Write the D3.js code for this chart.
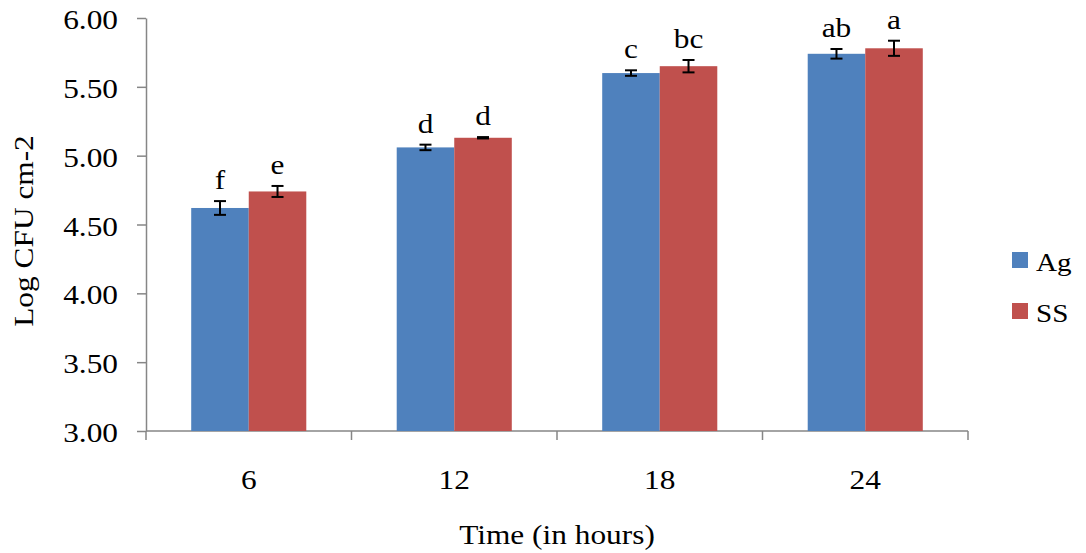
<!DOCTYPE html>
<html>
<head>
<meta charset="utf-8">
<script src="https://cdnjs.cloudflare.com/ajax/libs/d3/7.8.5/d3.min.js"></script>
<style>
  body { margin: 0; background: #fff; }
  svg text { font-family: "Liberation Serif", "Times New Roman", serif; fill: #000; }
  .axis path, .axis line { stroke: #868686; stroke-width: 1.5; }
</style>
</head>
<body>
<div id="container"></div>
<script>
// ---------------------
// DATA
// ---------------------
const categories = ['6', '12', '18', '24'];
const series = ['Ag', 'SS'];
const agValues = [4.62, 5.06, 5.60, 5.74];
const ssValues = [4.74, 5.13, 5.65, 5.78];
const agErrors = [0.05, 0.02, 0.02, 0.035];
const ssErrors = [0.04, 0.005, 0.045, 0.055];
const agLetters = ['f', 'd', 'c', 'ab'];
const ssLetters = ['e', 'd', 'bc', 'a'];
const yTicks = [3.0, 3.5, 4.0, 4.5, 5.0, 5.5, 6.0];
const colors = { Ag: '#4F81BD', SS: '#C0504D' };

// ---------------------
// SVG + DIMENSIONS
// ---------------------
const width = 1086, height = 553;
const margin = { top: 18, left: 146, right: 118, bottom: 122 };
const plotW = width - margin.left - margin.right;
const plotH = height - margin.top - margin.bottom;
const STRETCH = 1.12;   // the source font is a bit wider than Liberation Serif

const svg = d3.select('#container')
              .append('svg')
              .attr('width', width)
              .attr('height', height);

const g = svg.append('g')
             .attr('transform', `translate(${margin.left}, ${margin.top})`);

// move x/y into a transform so the text can be widened around its anchor
function stretchText (selection, rotate) {
  selection.each(function () {
    const t = d3.select(this);
    const tx = +t.attr('x') || 0;
    const ty = +t.attr('y') || 0;
    t.attr('x', 0).attr('y', 0)
     .attr('transform', `translate(${tx}, ${ty})${rotate ? ` rotate(${rotate})` : ''} scale(${STRETCH}, 1)`);
  });
}

// ---------------------
// SCALES
// ---------------------
const x = d3.scaleBand()
            .domain(categories)
            .range([0, plotW])
            .paddingInner(0.44)
            .paddingOuter(0.22);

const x1 = d3.scaleBand()
             .domain(series)
             .range([0, x.bandwidth()]);

const y = d3.scaleLinear()
            .domain([3, 6])
            .range([plotH, 0]);

// ---------------------
// AXES
// ---------------------
const axisY = g.append('g')
               .attr('class', 'axis')
               .call(d3.axisLeft(y)
                       .tickValues(yTicks)
                       .tickFormat(d3.format('.2f'))
                       .tickSizeInner(9)
                       .tickSizeOuter(0)
                       .tickPadding(19));
axisY.selectAll('text')
     .style('font-size', '28px')
     .attr('dy', '0.38em')
     .call(stretchText);

// category boundary ticks on x axis
const band = plotW / categories.length;
const axisX = g.append('g')
               .attr('class', 'axis')
               .attr('transform', `translate(0, ${plotH})`);
axisX.append('line')
     .attr('x1', 0).attr('x2', plotW)
     .attr('y1', 0).attr('y2', 0);
axisX.selectAll('line.tk')
     .data(d3.range(categories.length + 1))
     .enter()
     .append('line')
     .attr('class', 'tk')
     .attr('x1', i => i * band).attr('x2', i => i * band)
     .attr('y1', 0).attr('y2', 9);
axisX.selectAll('text')
     .data(categories)
     .enter()
     .append('text')
     .attr('x', d => x(d) + x.bandwidth() / 2)
     .attr('y', 58)
     .attr('text-anchor', 'middle')
     .style('font-size', '28px')
     .text(d => d)
     .call(stretchText);

// ---------------------
// BARS
// ---------------------
const rows = [];
categories.forEach((c, i) => {
  rows.push({ cat: c, s: 'Ag', v: agValues[i], e: agErrors[i], l: agLetters[i] });
  rows.push({ cat: c, s: 'SS', v: ssValues[i], e: ssErrors[i], l: ssLetters[i] });
});

g.append('g')
 .selectAll('rect')
 .data(rows)
 .enter()
 .append('rect')
 .attr('x', d => x(d.cat) + x1(d.s))
 .attr('y', d => y(d.v))
 .attr('width', x1.bandwidth())
 .attr('height', d => plotH - y(d.v))
 .attr('fill', d => colors[d.s]);

// error bars
const err = g.append('g')
             .selectAll('g')
             .data(rows)
             .enter()
             .append('g')
             .attr('transform', d => `translate(${x(d.cat) + x1(d.s) + x1.bandwidth() / 2}, 0)`);
err.append('line')
   .attr('y1', d => y(d.v + d.e)).attr('y2', d => y(d.v - d.e))
   .attr('stroke', '#000').attr('stroke-width', 2);
err.append('line')
   .attr('x1', -6).attr('x2', 6)
   .attr('y1', d => y(d.v + d.e)).attr('y2', d => y(d.v + d.e))
   .attr('stroke', '#000').attr('stroke-width', 2);
err.append('line')
   .attr('x1', -6).attr('x2', 6)
   .attr('y1', d => y(d.v - d.e)).attr('y2', d => y(d.v - d.e))
   .attr('stroke', '#000').attr('stroke-width', 2);

// significance letters
err.append('text')
   .attr('y', d => y(d.v + d.e) - 12)
   .attr('text-anchor', 'middle')
   .style('font-size', '28px')
   .text(d => d.l)
   .call(stretchText);

// ---------------------
// TITLES
// ---------------------
svg.append('text')
   .attr('x', 33)
   .attr('y', 231)
   .attr('text-anchor', 'middle')
   .style('font-size', '28px')
   .text('Log CFU cm-2')
   .call(stretchText, -90);

svg.append('text')
   .attr('x', margin.left + plotW / 2)
   .attr('y', 544)
   .attr('text-anchor', 'middle')
   .style('font-size', '28px')
   .text('Time (in hours)')
   .call(stretchText);

// ---------------------
// LEGEND
// ---------------------
const legend = svg.append('g')
                  .attr('transform', 'translate(1012, 252)')
                  .selectAll('g')
                  .data(series)
                  .enter()
                  .append('g')
                  .attr('transform', (d, i) => `translate(0, ${i * 51})`);
legend.append('rect')
      .attr('width', 16).attr('height', 16)
      .attr('fill', d => colors[d]);
legend.append('text')
      .attr('x', 24).attr('y', 19)
      .style('font-size', '26px')
      .text(d => d)
      .call(stretchText);
</script>
</body>
</html>
